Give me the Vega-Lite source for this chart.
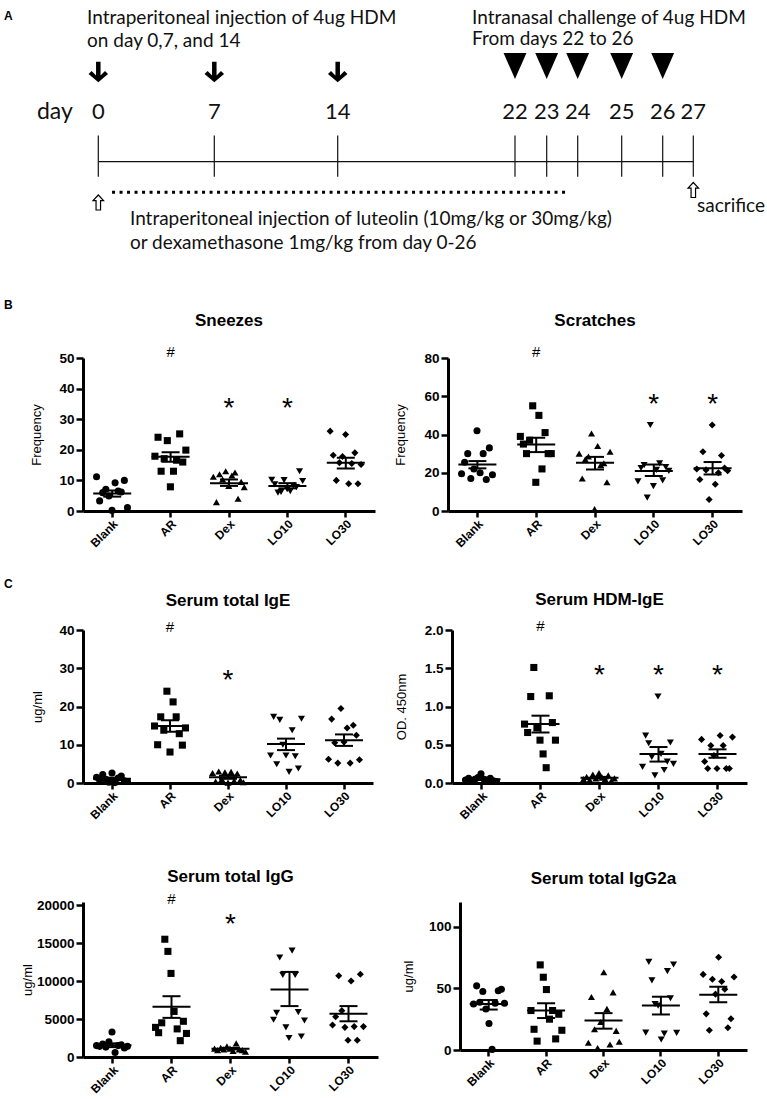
{
 "$schema": "https://vega.github.io/schema/vega-lite/v6.json",
 "background": "white",
 "padding": {"left": 4, "top": 0, "right": 0, "bottom": 0},
 "bounds": "flush",
 "spacing": 272,
 "config": {
  "font": "Liberation Sans",
  "view": {"stroke": null},
  "axis": {"domainColor": "#000", "domainWidth": 3, "tickColor": "#000", "tickWidth": 2.5, "tickSize": 7, "labelColor": "#000", "labelFont": "Liberation Sans", "labelFontWeight": "bold", "labelFontSize": 13.5, "labelPadding": 2, "titleFont": "Liberation Sans", "titleFontWeight": "normal", "titleFontSize": 13, "titleColor": "#000", "grid": false, "labelOverlap": false},
  "axisX": {"labelAngle": -45, "title": null, "labelFontSize": 12, "labelPadding": 1, "tickSize": 6},
  "title": {"font": "Liberation Sans", "fontSize": 17, "fontWeight": "bold", "color": "#000", "anchor": "middle", "frame": "group"}
 },
 "datasets": {
  "days": [{"day": 0}, {"day": 7}, {"day": 14}, {"day": 22}, {"day": 23}, {"day": 24}, {"day": 25}, {"day": 26}, {"day": 27}],
  "hdm_ip": [{"day": 0}, {"day": 7}, {"day": 14}],
  "hdm_in": [{"day": 22}, {"day": 23}, {"day": 24}, {"day": 25}, {"day": 26}],
  "pts": [
   {"panel":"Sneezes","group":"Blank","mouse":1,"value":11.2},{"panel":"Sneezes","group":"Blank","mouse":2,"value":3.3},{"panel":"Sneezes","group":"Blank","mouse":3,"value":6.0},{"panel":"Sneezes","group":"Blank","mouse":4,"value":7.1},{"panel":"Sneezes","group":"Blank","mouse":5,"value":4.9},{"panel":"Sneezes","group":"Blank","mouse":6,"value":0.2},{"panel":"Sneezes","group":"Blank","mouse":7,"value":9.2},{"panel":"Sneezes","group":"Blank","mouse":8,"value":6.5},{"panel":"Sneezes","group":"Blank","mouse":9,"value":6.2},{"panel":"Sneezes","group":"Blank","mouse":10,"value":10.0},{"panel":"Sneezes","group":"Blank","mouse":11,"value":1.1},
   {"panel":"Sneezes","group":"AR","mouse":1,"value":17.9},{"panel":"Sneezes","group":"AR","mouse":2,"value":24.1},{"panel":"Sneezes","group":"AR","mouse":3,"value":13.0},{"panel":"Sneezes","group":"AR","mouse":4,"value":17.1},{"panel":"Sneezes","group":"AR","mouse":5,"value":23.0},{"panel":"Sneezes","group":"AR","mouse":6,"value":7.9},{"panel":"Sneezes","group":"AR","mouse":7,"value":13.0},{"panel":"Sneezes","group":"AR","mouse":8,"value":16.6},{"panel":"Sneezes","group":"AR","mouse":9,"value":25.2},{"panel":"Sneezes","group":"AR","mouse":10,"value":16.0},{"panel":"Sneezes","group":"AR","mouse":11,"value":19.9},
   {"panel":"Sneezes","group":"Dex","mouse":1,"value":11.2},{"panel":"Sneezes","group":"Dex","mouse":2,"value":2.9},{"panel":"Sneezes","group":"Dex","mouse":3,"value":12.0},{"panel":"Sneezes","group":"Dex","mouse":4,"value":10.3},{"panel":"Sneezes","group":"Dex","mouse":5,"value":13.0},{"panel":"Sneezes","group":"Dex","mouse":6,"value":8.2},{"panel":"Sneezes","group":"Dex","mouse":7,"value":11.6},{"panel":"Sneezes","group":"Dex","mouse":8,"value":12.6},{"panel":"Sneezes","group":"Dex","mouse":9,"value":4.0},{"panel":"Sneezes","group":"Dex","mouse":10,"value":9.5},{"panel":"Sneezes","group":"Dex","mouse":11,"value":7.8},
   {"panel":"Sneezes","group":"LO10","mouse":1,"value":10.2},{"panel":"Sneezes","group":"LO10","mouse":2,"value":8.7},{"panel":"Sneezes","group":"LO10","mouse":3,"value":6.0},{"panel":"Sneezes","group":"LO10","mouse":4,"value":6.2},{"panel":"Sneezes","group":"LO10","mouse":5,"value":10.1},{"panel":"Sneezes","group":"LO10","mouse":6,"value":7.1},{"panel":"Sneezes","group":"LO10","mouse":7,"value":6.5},{"panel":"Sneezes","group":"LO10","mouse":8,"value":8.2},{"panel":"Sneezes","group":"LO10","mouse":9,"value":7.8},{"panel":"Sneezes","group":"LO10","mouse":10,"value":13.0},{"panel":"Sneezes","group":"LO10","mouse":11,"value":9.8},
   {"panel":"Sneezes","group":"LO30","mouse":1,"value":26.1},{"panel":"Sneezes","group":"LO30","mouse":2,"value":18.2},{"panel":"Sneezes","group":"LO30","mouse":3,"value":10.0},{"panel":"Sneezes","group":"LO30","mouse":4,"value":15.8},{"panel":"Sneezes","group":"LO30","mouse":5,"value":17.8},{"panel":"Sneezes","group":"LO30","mouse":6,"value":25.0},{"panel":"Sneezes","group":"LO30","mouse":7,"value":8.9},{"panel":"Sneezes","group":"LO30","mouse":8,"value":15.5},{"panel":"Sneezes","group":"LO30","mouse":9,"value":19.0},{"panel":"Sneezes","group":"LO30","mouse":10,"value":8.9},{"panel":"Sneezes","group":"LO30","mouse":11,"value":15.2},

   {"panel":"Scratches","group":"Blank","mouse":1,"value":19.5},{"panel":"Scratches","group":"Blank","mouse":2,"value":25.5},{"panel":"Scratches","group":"Blank","mouse":3,"value":30},{"panel":"Scratches","group":"Blank","mouse":4,"value":17},{"panel":"Scratches","group":"Blank","mouse":5,"value":22},{"panel":"Scratches","group":"Blank","mouse":6,"value":42},{"panel":"Scratches","group":"Blank","mouse":7,"value":20},{"panel":"Scratches","group":"Blank","mouse":8,"value":30},{"panel":"Scratches","group":"Blank","mouse":9,"value":16.5},{"panel":"Scratches","group":"Blank","mouse":10,"value":33},{"panel":"Scratches","group":"Blank","mouse":11,"value":19},
   {"panel":"Scratches","group":"AR","mouse":1,"value":39},{"panel":"Scratches","group":"AR","mouse":2,"value":35},{"panel":"Scratches","group":"AR","mouse":3,"value":30},{"panel":"Scratches","group":"AR","mouse":4,"value":37},{"panel":"Scratches","group":"AR","mouse":5,"value":55},{"panel":"Scratches","group":"AR","mouse":6,"value":15},{"panel":"Scratches","group":"AR","mouse":7,"value":50},{"panel":"Scratches","group":"AR","mouse":8,"value":22},{"panel":"Scratches","group":"AR","mouse":9,"value":41},{"panel":"Scratches","group":"AR","mouse":10,"value":30},{"panel":"Scratches","group":"AR","mouse":11,"value":30},
   {"panel":"Scratches","group":"Dex","mouse":1,"value":30},{"panel":"Scratches","group":"Dex","mouse":2,"value":17},{"panel":"Scratches","group":"Dex","mouse":3,"value":27},{"panel":"Scratches","group":"Dex","mouse":4,"value":28.5},{"panel":"Scratches","group":"Dex","mouse":5,"value":40.5},{"panel":"Scratches","group":"Dex","mouse":6,"value":1},{"panel":"Scratches","group":"Dex","mouse":7,"value":34},{"panel":"Scratches","group":"Dex","mouse":8,"value":24},{"panel":"Scratches","group":"Dex","mouse":9,"value":25},{"panel":"Scratches","group":"Dex","mouse":10,"value":15},{"panel":"Scratches","group":"Dex","mouse":11,"value":31},
   {"panel":"Scratches","group":"LO10","mouse":1,"value":15.5},{"panel":"Scratches","group":"LO10","mouse":2,"value":22.5},{"panel":"Scratches","group":"LO10","mouse":3,"value":24},{"panel":"Scratches","group":"LO10","mouse":4,"value":7},{"panel":"Scratches","group":"LO10","mouse":5,"value":45},{"panel":"Scratches","group":"LO10","mouse":6,"value":13},{"panel":"Scratches","group":"LO10","mouse":7,"value":21.5},{"panel":"Scratches","group":"LO10","mouse":8,"value":25},{"panel":"Scratches","group":"LO10","mouse":9,"value":16},{"panel":"Scratches","group":"LO10","mouse":10,"value":23},{"panel":"Scratches","group":"LO10","mouse":11,"value":21},
   {"panel":"Scratches","group":"LO30","mouse":1,"value":22},{"panel":"Scratches","group":"LO30","mouse":2,"value":16.5},{"panel":"Scratches","group":"LO30","mouse":3,"value":31},{"panel":"Scratches","group":"LO30","mouse":4,"value":21.5},{"panel":"Scratches","group":"LO30","mouse":5,"value":6},{"panel":"Scratches","group":"LO30","mouse":6,"value":45},{"panel":"Scratches","group":"LO30","mouse":7,"value":14},{"panel":"Scratches","group":"LO30","mouse":8,"value":20},{"panel":"Scratches","group":"LO30","mouse":9,"value":29},{"panel":"Scratches","group":"LO30","mouse":10,"value":22.5},{"panel":"Scratches","group":"LO30","mouse":11,"value":21},

   {"panel":"IgE","group":"Blank","mouse":1,"value":1.5},{"panel":"IgE","group":"Blank","mouse":2,"value":0.8},{"panel":"IgE","group":"Blank","mouse":3,"value":2.2},{"panel":"IgE","group":"Blank","mouse":4,"value":1.0},{"panel":"IgE","group":"Blank","mouse":5,"value":0.2},{"panel":"IgE","group":"Blank","mouse":6,"value":2.6},{"panel":"IgE","group":"Blank","mouse":7,"value":0.1},{"panel":"IgE","group":"Blank","mouse":8,"value":1.3},{"panel":"IgE","group":"Blank","mouse":9,"value":1.8},{"panel":"IgE","group":"Blank","mouse":10,"value":0.6},{"panel":"IgE","group":"Blank","mouse":11,"value":0.4},
   {"panel":"IgE","group":"AR","mouse":1,"value":14.9},{"panel":"IgE","group":"AR","mouse":2,"value":10.0},{"panel":"IgE","group":"AR","mouse":3,"value":17.3},{"panel":"IgE","group":"AR","mouse":4,"value":13.8},{"panel":"IgE","group":"AR","mouse":5,"value":24.0},{"panel":"IgE","group":"AR","mouse":6,"value":8.1},{"panel":"IgE","group":"AR","mouse":7,"value":21.2},{"panel":"IgE","group":"AR","mouse":8,"value":17.3},{"panel":"IgE","group":"AR","mouse":9,"value":12.9},{"panel":"IgE","group":"AR","mouse":10,"value":9.9},{"panel":"IgE","group":"AR","mouse":11,"value":14.4},
   {"panel":"IgE","group":"Dex","mouse":1,"value":2.6},{"panel":"IgE","group":"Dex","mouse":2,"value":0.4},{"panel":"IgE","group":"Dex","mouse":3,"value":3.0},{"panel":"IgE","group":"Dex","mouse":4,"value":1.0},{"panel":"IgE","group":"Dex","mouse":5,"value":2.8},{"panel":"IgE","group":"Dex","mouse":6,"value":0.1},{"panel":"IgE","group":"Dex","mouse":7,"value":2.9},{"panel":"IgE","group":"Dex","mouse":8,"value":0.6},{"panel":"IgE","group":"Dex","mouse":9,"value":2.5},{"panel":"IgE","group":"Dex","mouse":10,"value":0.8},{"panel":"IgE","group":"Dex","mouse":11,"value":0.2},
   {"panel":"IgE","group":"LO10","mouse":1,"value":7.2},{"panel":"IgE","group":"LO10","mouse":2,"value":17.3},{"panel":"IgE","group":"LO10","mouse":3,"value":4.9},{"panel":"IgE","group":"LO10","mouse":4,"value":16.5},{"panel":"IgE","group":"LO10","mouse":5,"value":10.0},{"panel":"IgE","group":"LO10","mouse":6,"value":7.2},{"panel":"IgE","group":"LO10","mouse":7,"value":2.9},{"panel":"IgE","group":"LO10","mouse":8,"value":13.8},{"panel":"IgE","group":"LO10","mouse":9,"value":7.0},{"panel":"IgE","group":"LO10","mouse":10,"value":3.8},{"panel":"IgE","group":"LO10","mouse":11,"value":16.8},
   {"panel":"IgE","group":"LO30","mouse":1,"value":6.2},{"panel":"IgE","group":"LO30","mouse":2,"value":16.7},{"panel":"IgE","group":"LO30","mouse":3,"value":10.5},{"panel":"IgE","group":"LO30","mouse":4,"value":5.2},{"panel":"IgE","group":"LO30","mouse":5,"value":19.5},{"panel":"IgE","group":"LO30","mouse":6,"value":10.7},{"panel":"IgE","group":"LO30","mouse":7,"value":14.4},{"panel":"IgE","group":"LO30","mouse":8,"value":5.2},{"panel":"IgE","group":"LO30","mouse":9,"value":15.1},{"panel":"IgE","group":"LO30","mouse":10,"value":12.5},{"panel":"IgE","group":"LO30","mouse":11,"value":6.1},

   {"panel":"HDM","group":"Blank","mouse":1,"value":0.04},{"panel":"HDM","group":"Blank","mouse":2,"value":0.06},{"panel":"HDM","group":"Blank","mouse":3,"value":0.03},{"panel":"HDM","group":"Blank","mouse":4,"value":0.05},{"panel":"HDM","group":"Blank","mouse":5,"value":0.07},{"panel":"HDM","group":"Blank","mouse":6,"value":0.12},{"panel":"HDM","group":"Blank","mouse":7,"value":0.05},{"panel":"HDM","group":"Blank","mouse":8,"value":0.04},{"panel":"HDM","group":"Blank","mouse":9,"value":0.06},{"panel":"HDM","group":"Blank","mouse":10,"value":0.03},{"panel":"HDM","group":"Blank","mouse":11,"value":0.02},
   {"panel":"HDM","group":"AR","mouse":1,"value":0.77},{"panel":"HDM","group":"AR","mouse":2,"value":0.66},{"panel":"HDM","group":"AR","mouse":3,"value":1.13},{"panel":"HDM","group":"AR","mouse":4,"value":1.51},{"panel":"HDM","group":"AR","mouse":5,"value":0.72},{"panel":"HDM","group":"AR","mouse":6,"value":0.56},{"panel":"HDM","group":"AR","mouse":7,"value":0.38},{"panel":"HDM","group":"AR","mouse":8,"value":0.2},{"panel":"HDM","group":"AR","mouse":9,"value":1.14},{"panel":"HDM","group":"AR","mouse":10,"value":0.79},{"panel":"HDM","group":"AR","mouse":11,"value":0.56},
   {"panel":"HDM","group":"Dex","mouse":1,"value":0.05},{"panel":"HDM","group":"Dex","mouse":2,"value":0.08},{"panel":"HDM","group":"Dex","mouse":3,"value":0.04},{"panel":"HDM","group":"Dex","mouse":4,"value":0.11},{"panel":"HDM","group":"Dex","mouse":5,"value":0.06},{"panel":"HDM","group":"Dex","mouse":6,"value":0.13},{"panel":"HDM","group":"Dex","mouse":7,"value":0.07},{"panel":"HDM","group":"Dex","mouse":8,"value":0.05},{"panel":"HDM","group":"Dex","mouse":9,"value":0.1},{"panel":"HDM","group":"Dex","mouse":10,"value":0.03},{"panel":"HDM","group":"Dex","mouse":11,"value":0.06},
   {"panel":"HDM","group":"LO10","mouse":1,"value":0.21},{"panel":"HDM","group":"LO10","mouse":2,"value":0.62},{"panel":"HDM","group":"LO10","mouse":3,"value":0.52},{"panel":"HDM","group":"LO10","mouse":4,"value":0.34},{"panel":"HDM","group":"LO10","mouse":5,"value":0.1},{"panel":"HDM","group":"LO10","mouse":6,"value":1.13},{"panel":"HDM","group":"LO10","mouse":7,"value":0.38},{"panel":"HDM","group":"LO10","mouse":8,"value":0.17},{"panel":"HDM","group":"LO10","mouse":9,"value":0.28},{"panel":"HDM","group":"LO10","mouse":10,"value":0.53},{"panel":"HDM","group":"LO10","mouse":11,"value":0.25},
   {"panel":"HDM","group":"LO30","mouse":1,"value":0.57},{"panel":"HDM","group":"LO30","mouse":2,"value":0.28},{"panel":"HDM","group":"LO30","mouse":3,"value":0.19},{"panel":"HDM","group":"LO30","mouse":4,"value":0.49},{"panel":"HDM","group":"LO30","mouse":5,"value":0.36},{"panel":"HDM","group":"LO30","mouse":6,"value":0.19},{"panel":"HDM","group":"LO30","mouse":7,"value":0.62},{"panel":"HDM","group":"LO30","mouse":8,"value":0.49},{"panel":"HDM","group":"LO30","mouse":9,"value":0.19},{"panel":"HDM","group":"LO30","mouse":10,"value":0.19},{"panel":"HDM","group":"LO30","mouse":11,"value":0.6},

   {"panel":"IgG","group":"Blank","mouse":1,"value":1500},{"panel":"IgG","group":"Blank","mouse":2,"value":1400},{"panel":"IgG","group":"Blank","mouse":3,"value":1700},{"panel":"IgG","group":"Blank","mouse":4,"value":1300},{"panel":"IgG","group":"Blank","mouse":5,"value":2000},{"panel":"IgG","group":"Blank","mouse":6,"value":3300},{"panel":"IgG","group":"Blank","mouse":7,"value":600},{"panel":"IgG","group":"Blank","mouse":8,"value":1500},{"panel":"IgG","group":"Blank","mouse":9,"value":1600},{"panel":"IgG","group":"Blank","mouse":10,"value":1200},{"panel":"IgG","group":"Blank","mouse":11,"value":1400},
   {"panel":"IgG","group":"AR","mouse":1,"value":3900},{"panel":"IgG","group":"AR","mouse":2,"value":3200},{"panel":"IgG","group":"AR","mouse":3,"value":4500},{"panel":"IgG","group":"AR","mouse":4,"value":15500},{"panel":"IgG","group":"AR","mouse":5,"value":13900},{"panel":"IgG","group":"AR","mouse":6,"value":11000},{"panel":"IgG","group":"AR","mouse":7,"value":6000},{"panel":"IgG","group":"AR","mouse":8,"value":3700},{"panel":"IgG","group":"AR","mouse":9,"value":2150},{"panel":"IgG","group":"AR","mouse":10,"value":4700},{"panel":"IgG","group":"AR","mouse":11,"value":3100},
   {"panel":"IgG","group":"Dex","mouse":1,"value":1100},{"panel":"IgG","group":"Dex","mouse":2,"value":900},{"panel":"IgG","group":"Dex","mouse":3,"value":1200},{"panel":"IgG","group":"Dex","mouse":4,"value":1000},{"panel":"IgG","group":"Dex","mouse":5,"value":1400},{"panel":"IgG","group":"Dex","mouse":6,"value":1100},{"panel":"IgG","group":"Dex","mouse":7,"value":800},{"panel":"IgG","group":"Dex","mouse":8,"value":1800},{"panel":"IgG","group":"Dex","mouse":9,"value":1000},{"panel":"IgG","group":"Dex","mouse":10,"value":900},{"panel":"IgG","group":"Dex","mouse":11,"value":700},
   {"panel":"IgG","group":"LO10","mouse":1,"value":4900},{"panel":"IgG","group":"LO10","mouse":2,"value":5800},{"panel":"IgG","group":"LO10","mouse":3,"value":13100},{"panel":"IgG","group":"LO10","mouse":4,"value":10800},{"panel":"IgG","group":"LO10","mouse":5,"value":3900},{"panel":"IgG","group":"LO10","mouse":6,"value":2500},{"panel":"IgG","group":"LO10","mouse":7,"value":14000},{"panel":"IgG","group":"LO10","mouse":8,"value":10800},{"panel":"IgG","group":"LO10","mouse":9,"value":5900},{"panel":"IgG","group":"LO10","mouse":10,"value":2700},{"panel":"IgG","group":"LO10","mouse":11,"value":4800},
   {"panel":"IgG","group":"LO30","mouse":1,"value":4200},{"panel":"IgG","group":"LO30","mouse":2,"value":5300},{"panel":"IgG","group":"LO30","mouse":3,"value":10700},{"panel":"IgG","group":"LO30","mouse":4,"value":6100},{"panel":"IgG","group":"LO30","mouse":5,"value":3900},{"panel":"IgG","group":"LO30","mouse":6,"value":2200},{"panel":"IgG","group":"LO30","mouse":7,"value":10000},{"panel":"IgG","group":"LO30","mouse":8,"value":4000},{"panel":"IgG","group":"LO30","mouse":9,"value":2200},{"panel":"IgG","group":"LO30","mouse":10,"value":10900},{"panel":"IgG","group":"LO30","mouse":11,"value":4000},

   {"panel":"IgG2a","group":"Blank","mouse":1,"value":37.3},{"panel":"IgG2a","group":"Blank","mouse":2,"value":52},{"panel":"IgG2a","group":"Blank","mouse":3,"value":38.7},{"panel":"IgG2a","group":"Blank","mouse":4,"value":47.5},{"panel":"IgG2a","group":"Blank","mouse":5,"value":33.3},{"panel":"IgG2a","group":"Blank","mouse":6,"value":21.5},{"panel":"IgG2a","group":"Blank","mouse":7,"value":0.5},{"panel":"IgG2a","group":"Blank","mouse":8,"value":38},{"panel":"IgG2a","group":"Blank","mouse":9,"value":48},{"panel":"IgG2a","group":"Blank","mouse":10,"value":49.3},{"panel":"IgG2a","group":"Blank","mouse":11,"value":37.9},
   {"panel":"IgG2a","group":"AR","mouse":1,"value":32},{"panel":"IgG2a","group":"AR","mouse":2,"value":16.8},{"panel":"IgG2a","group":"AR","mouse":3,"value":7.2},{"panel":"IgG2a","group":"AR","mouse":4,"value":69},{"panel":"IgG2a","group":"AR","mouse":5,"value":59},{"panel":"IgG2a","group":"AR","mouse":6,"value":49},{"panel":"IgG2a","group":"AR","mouse":7,"value":25},{"panel":"IgG2a","group":"AR","mouse":8,"value":32},{"panel":"IgG2a","group":"AR","mouse":9,"value":9},{"panel":"IgG2a","group":"AR","mouse":10,"value":29},{"panel":"IgG2a","group":"AR","mouse":11,"value":16},
   {"panel":"IgG2a","group":"Dex","mouse":1,"value":5.9},{"panel":"IgG2a","group":"Dex","mouse":2,"value":43},{"panel":"IgG2a","group":"Dex","mouse":3,"value":16.8},{"panel":"IgG2a","group":"Dex","mouse":4,"value":1.6},{"panel":"IgG2a","group":"Dex","mouse":5,"value":22.7},{"panel":"IgG2a","group":"Dex","mouse":6,"value":63},{"panel":"IgG2a","group":"Dex","mouse":7,"value":33.3},{"panel":"IgG2a","group":"Dex","mouse":8,"value":4.5},{"panel":"IgG2a","group":"Dex","mouse":9,"value":46.7},{"panel":"IgG2a","group":"Dex","mouse":10,"value":15.5},{"panel":"IgG2a","group":"Dex","mouse":11,"value":6.7},
   {"panel":"IgG2a","group":"LO10","mouse":1,"value":14.1},{"panel":"IgG2a","group":"LO10","mouse":2,"value":71.5},{"panel":"IgG2a","group":"LO10","mouse":3,"value":56.5},{"panel":"IgG2a","group":"LO10","mouse":4,"value":37.3},{"panel":"IgG2a","group":"LO10","mouse":5,"value":36},{"panel":"IgG2a","group":"LO10","mouse":6,"value":8.5},{"panel":"IgG2a","group":"LO10","mouse":7,"value":13.3},{"panel":"IgG2a","group":"LO10","mouse":8,"value":64},{"panel":"IgG2a","group":"LO10","mouse":9,"value":42},{"panel":"IgG2a","group":"LO10","mouse":10,"value":69.3},{"panel":"IgG2a","group":"LO10","mouse":11,"value":13.9},
   {"panel":"IgG2a","group":"LO30","mouse":1,"value":61.3},{"panel":"IgG2a","group":"LO30","mouse":2,"value":29.3},{"panel":"IgG2a","group":"LO30","mouse":3,"value":16},{"panel":"IgG2a","group":"LO30","mouse":4,"value":57.3},{"panel":"IgG2a","group":"LO30","mouse":5,"value":45.3},{"panel":"IgG2a","group":"LO30","mouse":6,"value":75.2},{"panel":"IgG2a","group":"LO30","mouse":7,"value":55.5},{"panel":"IgG2a","group":"LO30","mouse":8,"value":49.3},{"panel":"IgG2a","group":"LO30","mouse":9,"value":18.1},{"panel":"IgG2a","group":"LO30","mouse":10,"value":25.3},{"panel":"IgG2a","group":"LO30","mouse":11,"value":59.2}
  ],
  "sem": [
   {"panel":"Sneezes","group":"Blank","mean":5.7,"lo":4.7,"hi":6.7},{"panel":"Sneezes","group":"AR","mean":17.7,"lo":16.1,"hi":19.2},{"panel":"Sneezes","group":"Dex","mean":9.1,"lo":8.2,"hi":10.3},{"panel":"Sneezes","group":"LO10","mean":8.2,"lo":7.4,"hi":9.1},{"panel":"Sneezes","group":"LO30","mean":15.8,"lo":13.9,"hi":17.4},
   {"panel":"Scratches","group":"Blank","mean":24.3,"lo":22.3,"hi":26.1},{"panel":"Scratches","group":"AR","mean":34.8,"lo":30.8,"hi":38.3},{"panel":"Scratches","group":"Dex","mean":25.2,"lo":21.7,"hi":28.3},{"panel":"Scratches","group":"LO10","mean":20.9,"lo":18.3,"hi":24.3},{"panel":"Scratches","group":"LO30","mean":22.3,"lo":19.1,"hi":25.6},
   {"panel":"IgE","group":"Blank","mean":1.1,"lo":0.8,"hi":1.4},{"panel":"IgE","group":"AR","mean":14.9,"lo":13.4,"hi":16.4},{"panel":"IgE","group":"Dex","mean":1.5,"lo":1.1,"hi":1.9},{"panel":"IgE","group":"LO10","mean":10.2,"lo":8.6,"hi":11.6},{"panel":"IgE","group":"LO30","mean":11.2,"lo":9.7,"hi":12.7},
   {"panel":"HDM","group":"Blank","mean":0.05,"lo":0.04,"hi":0.06},{"panel":"HDM","group":"AR","mean":0.77,"lo":0.66,"hi":0.88},{"panel":"HDM","group":"Dex","mean":0.07,"lo":0.06,"hi":0.08},{"panel":"HDM","group":"LO10","mean":0.38,"lo":0.28,"hi":0.47},{"panel":"HDM","group":"LO30","mean":0.38,"lo":0.33,"hi":0.44},
   {"panel":"IgG","group":"Blank","mean":1540,"lo":1300,"hi":1800},{"panel":"IgG","group":"AR","mean":6600,"lo":5150,"hi":8000},{"panel":"IgG","group":"Dex","mean":1100,"lo":1000,"hi":1200},{"panel":"IgG","group":"LO10","mean":8900,"lo":6700,"hi":11200},{"panel":"IgG","group":"LO30","mean":5700,"lo":4700,"hi":6700},
   {"panel":"IgG2a","group":"Blank","mean":37.3,"lo":32.8,"hi":40.5},{"panel":"IgG2a","group":"AR","mean":32,"lo":25.9,"hi":37.9},{"panel":"IgG2a","group":"Dex","mean":24,"lo":17.3,"hi":29.9},{"panel":"IgG2a","group":"LO10","mean":36,"lo":28.8,"hi":43.2},{"panel":"IgG2a","group":"LO30","mean":44.8,"lo":38.7,"hi":51.2}
  ],
  "sig": [
   {"panel":"Sneezes","group":"AR","label":"#","at":52},{"panel":"Sneezes","group":"Dex","label":"*","at":36.1},{"panel":"Sneezes","group":"LO10","label":"*","at":36.1},
   {"panel":"Scratches","group":"AR","label":"#","at":83},{"panel":"Scratches","group":"LO10","label":"*","at":59.7},{"panel":"Scratches","group":"LO30","label":"*","at":59.7},
   {"panel":"IgE","group":"AR","label":"#","at":40.9},{"panel":"IgE","group":"Dex","label":"*","at":28.8},
   {"panel":"HDM","group":"AR","label":"#","at":2.05},{"panel":"HDM","group":"Dex","label":"*","at":1.5},{"panel":"HDM","group":"LO10","label":"*","at":1.5},{"panel":"HDM","group":"LO30","label":"*","at":1.5},
   {"panel":"IgG","group":"AR","label":"#","at":20800},{"panel":"IgG","group":"Dex","label":"*","at":18400}
  ]
 },
 "vconcat": [
  {
   "width": 684, "height": 86,
   "layer": [
    {"data": {"values": [{"from": 0, "to": 27}]}, "mark": {"type": "rule", "color": "#111", "strokeWidth": 1.2},
     "encoding": {"x": {"field": "from", "type": "quantitative", "scale": {"domain": [0, 7, 14, 22, 23, 24, 25, 26, 27], "range": [15.3, 131.3, 254.7, 432, 463.7, 494.7, 538.7, 579.7, 610.3], "nice": false, "zero": false}, "axis": null}, "x2": {"field": "to"},
      "y": {"datum": 16.17, "type": "quantitative", "scale": {"domain": [0, 8.6], "reverse": true, "nice": false, "zero": false}, "axis": null}}},
    {"data": {"name": "days"}, "mark": {"type": "rule", "color": "#111", "strokeWidth": 1.2},
     "encoding": {"x": {"field": "day", "type": "quantitative"}, "y": {"datum": 13.55, "type": "quantitative"}, "y2": {"datum": 17.67}}},
    {"data": {"name": "days"}, "mark": {"type": "text", "font": "Lato", "fontSize": 22, "color": "#111", "baseline": "middle", "align": "center"},
     "encoding": {"x": {"field": "day", "type": "quantitative"}, "y": {"datum": 11.2, "type": "quantitative"}, "text": {"field": "day"}}},
    {"data": {"name": "hdm_ip"}, "mark": {"type": "point", "shape": "M-0.22,-1L0.22,-1L0.22,0.35L0.65,-0.1L0.95,0.2L0,1L-0.95,0.2L-0.65,-0.1L-0.22,0.35Z", "size": 420, "filled": true, "color": "#000", "opacity": 1, "strokeWidth": 0},
     "encoding": {"x": {"field": "day", "type": "quantitative"}, "y": {"datum": 7.2, "type": "quantitative"}}},
    {"data": {"name": "hdm_in"}, "mark": {"type": "point", "shape": "M-0.88,-1L0.88,-1L0,1Z", "size": 676, "filled": true, "color": "#000", "opacity": 1, "strokeWidth": 0},
     "encoding": {"x": {"field": "day", "type": "quantitative"}, "y": {"datum": 6.6, "type": "quantitative"}}},
    {"data": {"values": [{"from": 0.83, "to": 23.65}]}, "mark": {"type": "rule", "color": "#000", "strokeWidth": 3, "strokeDash": [3, 4.5]},
     "encoding": {"x": {"field": "from", "type": "quantitative"}, "x2": {"field": "to"}, "y": {"datum": 19.23, "type": "quantitative"}}},
    {"data": {"values": [{"day": 0}]}, "mark": {"type": "point", "shape": "M0,-1L0.7,-0.25L0.3,-0.25L0.3,1L-0.3,1L-0.3,-0.25L-0.7,-0.25Z", "size": 225, "filled": true, "fill": "#fff", "stroke": "#000", "strokeWidth": 1.2, "opacity": 1},
     "encoding": {"x": {"field": "day", "type": "quantitative"}, "y": {"datum": 20.25, "type": "quantitative"}}},
    {"data": {"values": [{"day": 27}]}, "mark": {"type": "point", "shape": "M0,-1L0.7,-0.25L0.3,-0.25L0.3,1L-0.3,1L-0.3,-0.25L-0.7,-0.25Z", "size": 225, "filled": true, "fill": "#fff", "stroke": "#000", "strokeWidth": 1.2, "opacity": 1},
     "encoding": {"x": {"field": "day", "type": "quantitative"}, "y": {"datum": 19.0, "type": "quantitative"}}},
    {"data": {"values": [{"note": "A"}]}, "mark": {"type": "text", "font": "Liberation Sans", "fontWeight": "bold", "fontSize": 12, "align": "left", "baseline": "middle", "color": "#000"},
     "encoding": {"x": {"datum": -5.69, "type": "quantitative"}, "y": {"datum": 1.6, "type": "quantitative"}, "text": {"field": "note"}}},
    {"data": {"values": [{"note": "Intraperitoneal injection of 4ug HDM"}]}, "mark": {"type": "text", "font": "Lato", "fontSize": 19, "align": "left", "baseline": "middle", "color": "#111"},
     "encoding": {"x": {"datum": -0.68, "type": "quantitative"}, "y": {"datum": 1.83, "type": "quantitative"}, "text": {"field": "note"}}},
    {"data": {"values": [{"note": "on day 0,7, and 14"}]}, "mark": {"type": "text", "font": "Lato", "fontSize": 19, "align": "left", "baseline": "middle", "color": "#111"},
     "encoding": {"x": {"datum": -0.68, "type": "quantitative"}, "y": {"datum": 4.1, "type": "quantitative"}, "text": {"field": "note"}}},
    {"data": {"values": [{"note": "Intranasal challenge of 4ug HDM"}]}, "mark": {"type": "text", "font": "Lato", "fontSize": 19, "align": "left", "baseline": "middle", "color": "#111"},
     "encoding": {"x": {"datum": 20.06, "type": "quantitative"}, "y": {"datum": 1.8, "type": "quantitative"}, "text": {"field": "note"}}},
    {"data": {"values": [{"note": "From days 22 to 26"}]}, "mark": {"type": "text", "font": "Lato", "fontSize": 19, "align": "left", "baseline": "middle", "color": "#111"},
     "encoding": {"x": {"datum": 20.06, "type": "quantitative"}, "y": {"datum": 3.9, "type": "quantitative"}, "text": {"field": "note"}}},
    {"data": {"values": [{"note": "day"}]}, "mark": {"type": "text", "font": "Lato", "fontSize": 23, "align": "left", "baseline": "middle", "color": "#111"},
     "encoding": {"x": {"datum": -3.7, "type": "quantitative"}, "y": {"datum": 11.2, "type": "quantitative"}, "text": {"field": "note"}}},
    {"data": {"values": [{"note": "sacrifice"}]}, "mark": {"type": "text", "font": "Lato", "fontSize": 19, "align": "left", "baseline": "middle", "color": "#111"},
     "encoding": {"x": {"datum": 27.12, "type": "quantitative"}, "y": {"datum": 20.6, "type": "quantitative"}, "text": {"field": "note"}}},
    {"data": {"values": [{"note": "Intraperitoneal injection of luteolin (10mg/kg or 30mg/kg)"}]}, "mark": {"type": "text", "font": "Lato", "fontSize": 19, "align": "left", "baseline": "middle", "color": "#111"},
     "encoding": {"x": {"datum": 1.91, "type": "quantitative"}, "y": {"datum": 21.9, "type": "quantitative"}, "text": {"field": "note"}}},
    {"data": {"values": [{"note": "or dexamethasone 1mg/kg from day 0-26"}]}, "mark": {"type": "text", "font": "Lato", "fontSize": 19, "align": "left", "baseline": "middle", "color": "#111"},
     "encoding": {"x": {"datum": 1.91, "type": "quantitative"}, "y": {"datum": 24.3, "type": "quantitative"}, "text": {"field": "note"}}}
   ]
  },
  {
   "bounds": "flush", "spacing": 73,
   "title": {"text": "B", "anchor": "start", "frame": "group", "dx": -79, "offset": 0, "fontSize": 12, "fontWeight": "bold"},
   "hconcat": [
    {
     "width": 292, "height": 153,
     "title": {"text": "Sneezes", "offset": 15},
     "encoding": {"x": {"field": "group", "type": "nominal", "sort": null, "scale": {"type": "band", "domain": ["Blank", "AR", "Dex", "LO10", "LO30"], "paddingInner": 0, "paddingOuter": 0}, "axis": {"bandPosition": 0.5}}},
     "layer": [
      {"data": {"name": "pts"}, "transform": [{"filter": {"field": "panel", "equal": "Sneezes"}}],
       "mark": {"type": "point", "filled": true, "opacity": 1, "color": "#000", "size": 50, "strokeWidth": 0},
       "encoding": {"xOffset": {"field": "mouse", "type": "ordinal", "scale": {"range": [12, 46], "paddingInner": 0, "paddingOuter": 0.5}},
        "y": {"field": "value", "type": "quantitative", "title": "Frequency", "scale": {"domain": [0, 50], "nice": false}, "axis": {"values": [0, 10, 20, 30, 40, 50], "titlePadding": 15}},
        "shape": {"field": "group", "type": "nominal", "scale": {"domain": ["Blank", "AR", "Dex", "LO10", "LO30"], "range": ["circle", "square", "triangle-up", "triangle-down", "diamond"]}, "legend": null}}},
      {"data": {"name": "sem"}, "transform": [{"filter": {"field": "panel", "equal": "Sneezes"}}], "mark": {"type": "rule", "color": "#000", "strokeWidth": 2},
       "encoding": {"y": {"field": "lo", "type": "quantitative", "title": "Frequency", "axis": {"values": [0, 10, 20, 30, 40, 50], "titlePadding": 15}}, "y2": {"field": "hi"}}},
      {"data": {"name": "sem"}, "transform": [{"filter": {"field": "panel", "equal": "Sneezes"}}], "mark": {"type": "tick", "color": "#000", "thickness": 2, "size": 38, "opacity": 1},
       "encoding": {"y": {"field": "mean", "type": "quantitative", "title": "Frequency", "axis": {"values": [0, 10, 20, 30, 40, 50], "titlePadding": 15}}}},
      {"data": {"name": "sem"}, "transform": [{"filter": {"field": "panel", "equal": "Sneezes"}}], "mark": {"type": "tick", "color": "#000", "thickness": 2, "size": 18, "opacity": 1},
       "encoding": {"y": {"field": "lo", "type": "quantitative", "title": "Frequency", "axis": {"values": [0, 10, 20, 30, 40, 50], "titlePadding": 15}}}},
      {"data": {"name": "sem"}, "transform": [{"filter": {"field": "panel", "equal": "Sneezes"}}], "mark": {"type": "tick", "color": "#000", "thickness": 2, "size": 18, "opacity": 1},
       "encoding": {"y": {"field": "hi", "type": "quantitative", "title": "Frequency", "axis": {"values": [0, 10, 20, 30, 40, 50], "titlePadding": 15}}}},
      {"data": {"name": "sig"}, "transform": [{"filter": {"field": "panel", "equal": "Sneezes"}}, {"filter": {"field": "label", "equal": "#"}}], "mark": {"type": "text", "font": "Liberation Sans", "fontSize": 15, "baseline": "alphabetic", "dy": 5, "color": "#000"},
       "encoding": {"y": {"field": "at", "type": "quantitative", "title": "Frequency", "axis": {"values": [0, 10, 20, 30, 40, 50], "titlePadding": 15}}, "text": {"field": "label"}}},
      {"data": {"name": "sig"}, "transform": [{"filter": {"field": "panel", "equal": "Sneezes"}}, {"filter": {"field": "label", "equal": "*"}}], "mark": {"type": "text", "font": "Liberation Sans", "fontSize": 28, "baseline": "alphabetic", "dy": 16, "color": "#000"},
       "encoding": {"y": {"field": "at", "type": "quantitative", "title": "Frequency", "axis": {"values": [0, 10, 20, 30, 40, 50], "titlePadding": 15}}, "text": {"field": "label"}}}
     ]
    },
    {
     "width": 294, "height": 153,
     "title": {"text": "Scratches", "offset": 15},
     "encoding": {"x": {"field": "group", "type": "nominal", "sort": null, "scale": {"type": "band", "domain": ["Blank", "AR", "Dex", "LO10", "LO30"], "paddingInner": 0, "paddingOuter": 0}, "axis": {"bandPosition": 0.5}}},
     "layer": [
      {"data": {"name": "pts"}, "transform": [{"filter": {"field": "panel", "equal": "Scratches"}}],
       "mark": {"type": "point", "filled": true, "opacity": 1, "color": "#000", "size": 50, "strokeWidth": 0},
       "encoding": {"xOffset": {"field": "mouse", "type": "ordinal", "scale": {"range": [12, 46], "paddingInner": 0, "paddingOuter": 0.5}},
        "y": {"field": "value", "type": "quantitative", "title": "Frequency", "scale": {"domain": [0, 80], "nice": false}, "axis": {"values": [0, 20, 40, 60, 80], "titlePadding": 16}},
        "shape": {"field": "group", "type": "nominal", "scale": {"domain": ["Blank", "AR", "Dex", "LO10", "LO30"], "range": ["circle", "square", "triangle-up", "triangle-down", "diamond"]}, "legend": null}}},
      {"data": {"name": "sem"}, "transform": [{"filter": {"field": "panel", "equal": "Scratches"}}], "mark": {"type": "rule", "color": "#000", "strokeWidth": 2},
       "encoding": {"y": {"field": "lo", "type": "quantitative", "title": "Frequency", "axis": {"values": [0, 20, 40, 60, 80], "titlePadding": 16}}, "y2": {"field": "hi"}}},
      {"data": {"name": "sem"}, "transform": [{"filter": {"field": "panel", "equal": "Scratches"}}], "mark": {"type": "tick", "color": "#000", "thickness": 2, "size": 38, "opacity": 1},
       "encoding": {"y": {"field": "mean", "type": "quantitative", "title": "Frequency", "axis": {"values": [0, 20, 40, 60, 80], "titlePadding": 16}}}},
      {"data": {"name": "sem"}, "transform": [{"filter": {"field": "panel", "equal": "Scratches"}}], "mark": {"type": "tick", "color": "#000", "thickness": 2, "size": 18, "opacity": 1},
       "encoding": {"y": {"field": "lo", "type": "quantitative", "title": "Frequency", "axis": {"values": [0, 20, 40, 60, 80], "titlePadding": 16}}}},
      {"data": {"name": "sem"}, "transform": [{"filter": {"field": "panel", "equal": "Scratches"}}], "mark": {"type": "tick", "color": "#000", "thickness": 2, "size": 18, "opacity": 1},
       "encoding": {"y": {"field": "hi", "type": "quantitative", "title": "Frequency", "axis": {"values": [0, 20, 40, 60, 80], "titlePadding": 16}}}},
      {"data": {"name": "sig"}, "transform": [{"filter": {"field": "panel", "equal": "Scratches"}}, {"filter": {"field": "label", "equal": "#"}}], "mark": {"type": "text", "font": "Liberation Sans", "fontSize": 15, "baseline": "alphabetic", "dy": 5, "color": "#000"},
       "encoding": {"y": {"field": "at", "type": "quantitative", "title": "Frequency", "axis": {"values": [0, 20, 40, 60, 80], "titlePadding": 16}}, "text": {"field": "label"}}},
      {"data": {"name": "sig"}, "transform": [{"filter": {"field": "panel", "equal": "Scratches"}}, {"filter": {"field": "label", "equal": "*"}}], "mark": {"type": "text", "font": "Liberation Sans", "fontSize": 28, "baseline": "alphabetic", "dy": 16, "color": "#000"},
       "encoding": {"y": {"field": "at", "type": "quantitative", "title": "Frequency", "axis": {"values": [0, 20, 40, 60, 80], "titlePadding": 16}}, "text": {"field": "label"}}}
     ]
    }
   ]
  },
  {
   "bounds": "flush", "spacing": 79,
   "title": {"text": "C", "anchor": "start", "frame": "group", "dx": -79, "offset": 0, "fontSize": 12, "fontWeight": "bold"},
   "hconcat": [
    {
     "width": 290, "height": 153,
     "title": {"text": "Serum total IgE", "offset": 10},
     "encoding": {"x": {"field": "group", "type": "nominal", "sort": null, "scale": {"type": "band", "domain": ["Blank", "AR", "Dex", "LO10", "LO30"], "paddingInner": 0, "paddingOuter": 0}, "axis": {"bandPosition": 0.5}}},
     "layer": [
      {"data": {"name": "pts"}, "transform": [{"filter": {"field": "panel", "equal": "IgE"}}],
       "mark": {"type": "point", "filled": true, "opacity": 1, "color": "#000", "size": 50, "strokeWidth": 0},
       "encoding": {"xOffset": {"field": "mouse", "type": "ordinal", "scale": {"range": [12, 46], "paddingInner": 0, "paddingOuter": 0.5}},
        "y": {"field": "value", "type": "quantitative", "title": "ug/ml", "scale": {"domain": [0, 40], "nice": false}, "axis": {"values": [0, 10, 20, 30, 40], "titlePadding": 14}},
        "shape": {"field": "group", "type": "nominal", "scale": {"domain": ["Blank", "AR", "Dex", "LO10", "LO30"], "range": ["circle", "square", "triangle-up", "triangle-down", "diamond"]}, "legend": null}}},
      {"data": {"name": "sem"}, "transform": [{"filter": {"field": "panel", "equal": "IgE"}}], "mark": {"type": "rule", "color": "#000", "strokeWidth": 2},
       "encoding": {"y": {"field": "lo", "type": "quantitative", "title": "ug/ml", "axis": {"values": [0, 10, 20, 30, 40], "titlePadding": 14}}, "y2": {"field": "hi"}}},
      {"data": {"name": "sem"}, "transform": [{"filter": {"field": "panel", "equal": "IgE"}}], "mark": {"type": "tick", "color": "#000", "thickness": 2, "size": 38, "opacity": 1},
       "encoding": {"y": {"field": "mean", "type": "quantitative", "title": "ug/ml", "axis": {"values": [0, 10, 20, 30, 40], "titlePadding": 14}}}},
      {"data": {"name": "sem"}, "transform": [{"filter": {"field": "panel", "equal": "IgE"}}], "mark": {"type": "tick", "color": "#000", "thickness": 2, "size": 18, "opacity": 1},
       "encoding": {"y": {"field": "lo", "type": "quantitative", "title": "ug/ml", "axis": {"values": [0, 10, 20, 30, 40], "titlePadding": 14}}}},
      {"data": {"name": "sem"}, "transform": [{"filter": {"field": "panel", "equal": "IgE"}}], "mark": {"type": "tick", "color": "#000", "thickness": 2, "size": 18, "opacity": 1},
       "encoding": {"y": {"field": "hi", "type": "quantitative", "title": "ug/ml", "axis": {"values": [0, 10, 20, 30, 40], "titlePadding": 14}}}},
      {"data": {"name": "sig"}, "transform": [{"filter": {"field": "panel", "equal": "IgE"}}, {"filter": {"field": "label", "equal": "#"}}], "mark": {"type": "text", "font": "Liberation Sans", "fontSize": 15, "baseline": "alphabetic", "dy": 5, "color": "#000"},
       "encoding": {"y": {"field": "at", "type": "quantitative", "title": "ug/ml", "axis": {"values": [0, 10, 20, 30, 40], "titlePadding": 14}}, "text": {"field": "label"}}},
      {"data": {"name": "sig"}, "transform": [{"filter": {"field": "panel", "equal": "IgE"}}, {"filter": {"field": "label", "equal": "*"}}], "mark": {"type": "text", "font": "Liberation Sans", "fontSize": 28, "baseline": "alphabetic", "dy": 16, "color": "#000"},
       "encoding": {"y": {"field": "at", "type": "quantitative", "title": "ug/ml", "axis": {"values": [0, 10, 20, 30, 40], "titlePadding": 14}}, "text": {"field": "label"}}}
     ]
    },
    {
     "width": 295, "height": 153,
     "title": {"text": "Serum HDM-IgE", "offset": 10},
     "encoding": {"x": {"field": "group", "type": "nominal", "sort": null, "scale": {"type": "band", "domain": ["Blank", "AR", "Dex", "LO10", "LO30"], "paddingInner": 0, "paddingOuter": 0}, "axis": {"bandPosition": 0.5}}},
     "layer": [
      {"data": {"name": "pts"}, "transform": [{"filter": {"field": "panel", "equal": "HDM"}}],
       "mark": {"type": "point", "filled": true, "opacity": 1, "color": "#000", "size": 50, "strokeWidth": 0},
       "encoding": {"xOffset": {"field": "mouse", "type": "ordinal", "scale": {"range": [12, 46], "paddingInner": 0, "paddingOuter": 0.5}},
        "y": {"field": "value", "type": "quantitative", "title": "OD. 450nm", "scale": {"domain": [0, 2], "nice": false}, "axis": {"values": [0, 0.5, 1, 1.5, 2], "format": ".1f", "titlePadding": 16}},
        "shape": {"field": "group", "type": "nominal", "scale": {"domain": ["Blank", "AR", "Dex", "LO10", "LO30"], "range": ["circle", "square", "triangle-up", "triangle-down", "diamond"]}, "legend": null}}},
      {"data": {"name": "sem"}, "transform": [{"filter": {"field": "panel", "equal": "HDM"}}], "mark": {"type": "rule", "color": "#000", "strokeWidth": 2},
       "encoding": {"y": {"field": "lo", "type": "quantitative", "title": "OD. 450nm", "axis": {"values": [0, 0.5, 1, 1.5, 2], "format": ".1f", "titlePadding": 16}}, "y2": {"field": "hi"}}},
      {"data": {"name": "sem"}, "transform": [{"filter": {"field": "panel", "equal": "HDM"}}], "mark": {"type": "tick", "color": "#000", "thickness": 2, "size": 38, "opacity": 1},
       "encoding": {"y": {"field": "mean", "type": "quantitative", "title": "OD. 450nm", "axis": {"values": [0, 0.5, 1, 1.5, 2], "format": ".1f", "titlePadding": 16}}}},
      {"data": {"name": "sem"}, "transform": [{"filter": {"field": "panel", "equal": "HDM"}}], "mark": {"type": "tick", "color": "#000", "thickness": 2, "size": 18, "opacity": 1},
       "encoding": {"y": {"field": "lo", "type": "quantitative", "title": "OD. 450nm", "axis": {"values": [0, 0.5, 1, 1.5, 2], "format": ".1f", "titlePadding": 16}}}},
      {"data": {"name": "sem"}, "transform": [{"filter": {"field": "panel", "equal": "HDM"}}], "mark": {"type": "tick", "color": "#000", "thickness": 2, "size": 18, "opacity": 1},
       "encoding": {"y": {"field": "hi", "type": "quantitative", "title": "OD. 450nm", "axis": {"values": [0, 0.5, 1, 1.5, 2], "format": ".1f", "titlePadding": 16}}}},
      {"data": {"name": "sig"}, "transform": [{"filter": {"field": "panel", "equal": "HDM"}}, {"filter": {"field": "label", "equal": "#"}}], "mark": {"type": "text", "font": "Liberation Sans", "fontSize": 15, "baseline": "alphabetic", "dy": 5, "color": "#000"},
       "encoding": {"y": {"field": "at", "type": "quantitative", "title": "OD. 450nm", "axis": {"values": [0, 0.5, 1, 1.5, 2], "format": ".1f", "titlePadding": 16}}, "text": {"field": "label"}}},
      {"data": {"name": "sig"}, "transform": [{"filter": {"field": "panel", "equal": "HDM"}}, {"filter": {"field": "label", "equal": "*"}}], "mark": {"type": "text", "font": "Liberation Sans", "fontSize": 28, "baseline": "alphabetic", "dy": 16, "color": "#000"},
       "encoding": {"y": {"field": "at", "type": "quantitative", "title": "OD. 450nm", "axis": {"values": [0, 0.5, 1, 1.5, 2], "format": ".1f", "titlePadding": 16}}, "text": {"field": "label"}}}
     ]
    }
   ]
  },
  {
   "bounds": "flush", "spacing": 82,
   "hconcat": [
    {
     "width": 295, "height": 155,
     "title": {"text": "Serum total IgG", "offset": 6},
     "encoding": {"x": {"field": "group", "type": "nominal", "sort": null, "scale": {"type": "band", "domain": ["Blank", "AR", "Dex", "LO10", "LO30"], "paddingInner": 0, "paddingOuter": 0}, "axis": {"bandPosition": 0.5}}},
     "layer": [
      {"data": {"name": "pts"}, "transform": [{"filter": {"field": "panel", "equal": "IgG"}}],
       "mark": {"type": "point", "filled": true, "opacity": 1, "color": "#000", "size": 50, "strokeWidth": 0},
       "encoding": {"xOffset": {"field": "mouse", "type": "ordinal", "scale": {"range": [12, 46], "paddingInner": 0, "paddingOuter": 0.5}},
        "y": {"field": "value", "type": "quantitative", "title": "ug/ml", "scale": {"domain": [0, 20400], "nice": false}, "axis": {"values": [0, 5000, 10000, 15000, 20000], "format": "d", "titlePadding": 2}},
        "shape": {"field": "group", "type": "nominal", "scale": {"domain": ["Blank", "AR", "Dex", "LO10", "LO30"], "range": ["circle", "square", "triangle-up", "triangle-down", "diamond"]}, "legend": null}}},
      {"data": {"name": "sem"}, "transform": [{"filter": {"field": "panel", "equal": "IgG"}}], "mark": {"type": "rule", "color": "#000", "strokeWidth": 2},
       "encoding": {"y": {"field": "lo", "type": "quantitative", "title": "ug/ml", "axis": {"values": [0, 5000, 10000, 15000, 20000], "format": "d", "titlePadding": 2}}, "y2": {"field": "hi"}}},
      {"data": {"name": "sem"}, "transform": [{"filter": {"field": "panel", "equal": "IgG"}}], "mark": {"type": "tick", "color": "#000", "thickness": 2, "size": 38, "opacity": 1},
       "encoding": {"y": {"field": "mean", "type": "quantitative", "title": "ug/ml", "axis": {"values": [0, 5000, 10000, 15000, 20000], "format": "d", "titlePadding": 2}}}},
      {"data": {"name": "sem"}, "transform": [{"filter": {"field": "panel", "equal": "IgG"}}], "mark": {"type": "tick", "color": "#000", "thickness": 2, "size": 18, "opacity": 1},
       "encoding": {"y": {"field": "lo", "type": "quantitative", "title": "ug/ml", "axis": {"values": [0, 5000, 10000, 15000, 20000], "format": "d", "titlePadding": 2}}}},
      {"data": {"name": "sem"}, "transform": [{"filter": {"field": "panel", "equal": "IgG"}}], "mark": {"type": "tick", "color": "#000", "thickness": 2, "size": 18, "opacity": 1},
       "encoding": {"y": {"field": "hi", "type": "quantitative", "title": "ug/ml", "axis": {"values": [0, 5000, 10000, 15000, 20000], "format": "d", "titlePadding": 2}}}},
      {"data": {"name": "sig"}, "transform": [{"filter": {"field": "panel", "equal": "IgG"}}, {"filter": {"field": "label", "equal": "#"}}], "mark": {"type": "text", "font": "Liberation Sans", "fontSize": 15, "baseline": "alphabetic", "dy": 5, "color": "#000"},
       "encoding": {"y": {"field": "at", "type": "quantitative", "title": "ug/ml", "axis": {"values": [0, 5000, 10000, 15000, 20000], "format": "d", "titlePadding": 2}}, "text": {"field": "label"}}},
      {"data": {"name": "sig"}, "transform": [{"filter": {"field": "panel", "equal": "IgG"}}, {"filter": {"field": "label", "equal": "*"}}], "mark": {"type": "text", "font": "Liberation Sans", "fontSize": 28, "baseline": "alphabetic", "dy": 16, "color": "#000"},
       "encoding": {"y": {"field": "at", "type": "quantitative", "title": "ug/ml", "axis": {"values": [0, 5000, 10000, 15000, 20000], "format": "d", "titlePadding": 2}}, "text": {"field": "label"}}}
     ]
    },
    {
     "width": 287, "height": 148,
     "title": {"text": "Serum total IgG2a", "offset": 14},
     "encoding": {"x": {"field": "group", "type": "nominal", "sort": null, "scale": {"type": "band", "domain": ["Blank", "AR", "Dex", "LO10", "LO30"], "paddingInner": 0, "paddingOuter": 0}, "axis": {"bandPosition": 0.5}}},
     "layer": [
      {"data": {"name": "pts"}, "transform": [{"filter": {"field": "panel", "equal": "IgG2a"}}],
       "mark": {"type": "point", "filled": true, "opacity": 1, "color": "#000", "size": 50, "strokeWidth": 0},
       "encoding": {"xOffset": {"field": "mouse", "type": "ordinal", "scale": {"range": [12, 46], "paddingInner": 0, "paddingOuter": 0.5}},
        "y": {"field": "value", "type": "quantitative", "title": "ug/ml", "scale": {"domain": [0, 120], "nice": false}, "axis": {"values": [0, 50, 100], "titlePadding": 13}},
        "shape": {"field": "group", "type": "nominal", "scale": {"domain": ["Blank", "AR", "Dex", "LO10", "LO30"], "range": ["circle", "square", "triangle-up", "triangle-down", "diamond"]}, "legend": null}}},
      {"data": {"name": "sem"}, "transform": [{"filter": {"field": "panel", "equal": "IgG2a"}}], "mark": {"type": "rule", "color": "#000", "strokeWidth": 2},
       "encoding": {"y": {"field": "lo", "type": "quantitative", "title": "ug/ml", "axis": {"values": [0, 50, 100], "titlePadding": 13}}, "y2": {"field": "hi"}}},
      {"data": {"name": "sem"}, "transform": [{"filter": {"field": "panel", "equal": "IgG2a"}}], "mark": {"type": "tick", "color": "#000", "thickness": 2, "size": 38, "opacity": 1},
       "encoding": {"y": {"field": "mean", "type": "quantitative", "title": "ug/ml", "axis": {"values": [0, 50, 100], "titlePadding": 13}}}},
      {"data": {"name": "sem"}, "transform": [{"filter": {"field": "panel", "equal": "IgG2a"}}], "mark": {"type": "tick", "color": "#000", "thickness": 2, "size": 18, "opacity": 1},
       "encoding": {"y": {"field": "lo", "type": "quantitative", "title": "ug/ml", "axis": {"values": [0, 50, 100], "titlePadding": 13}}}},
      {"data": {"name": "sem"}, "transform": [{"filter": {"field": "panel", "equal": "IgG2a"}}], "mark": {"type": "tick", "color": "#000", "thickness": 2, "size": 18, "opacity": 1},
       "encoding": {"y": {"field": "hi", "type": "quantitative", "title": "ug/ml", "axis": {"values": [0, 50, 100], "titlePadding": 13}}}}
     ]
    }
   ]
  }
 ]
}
